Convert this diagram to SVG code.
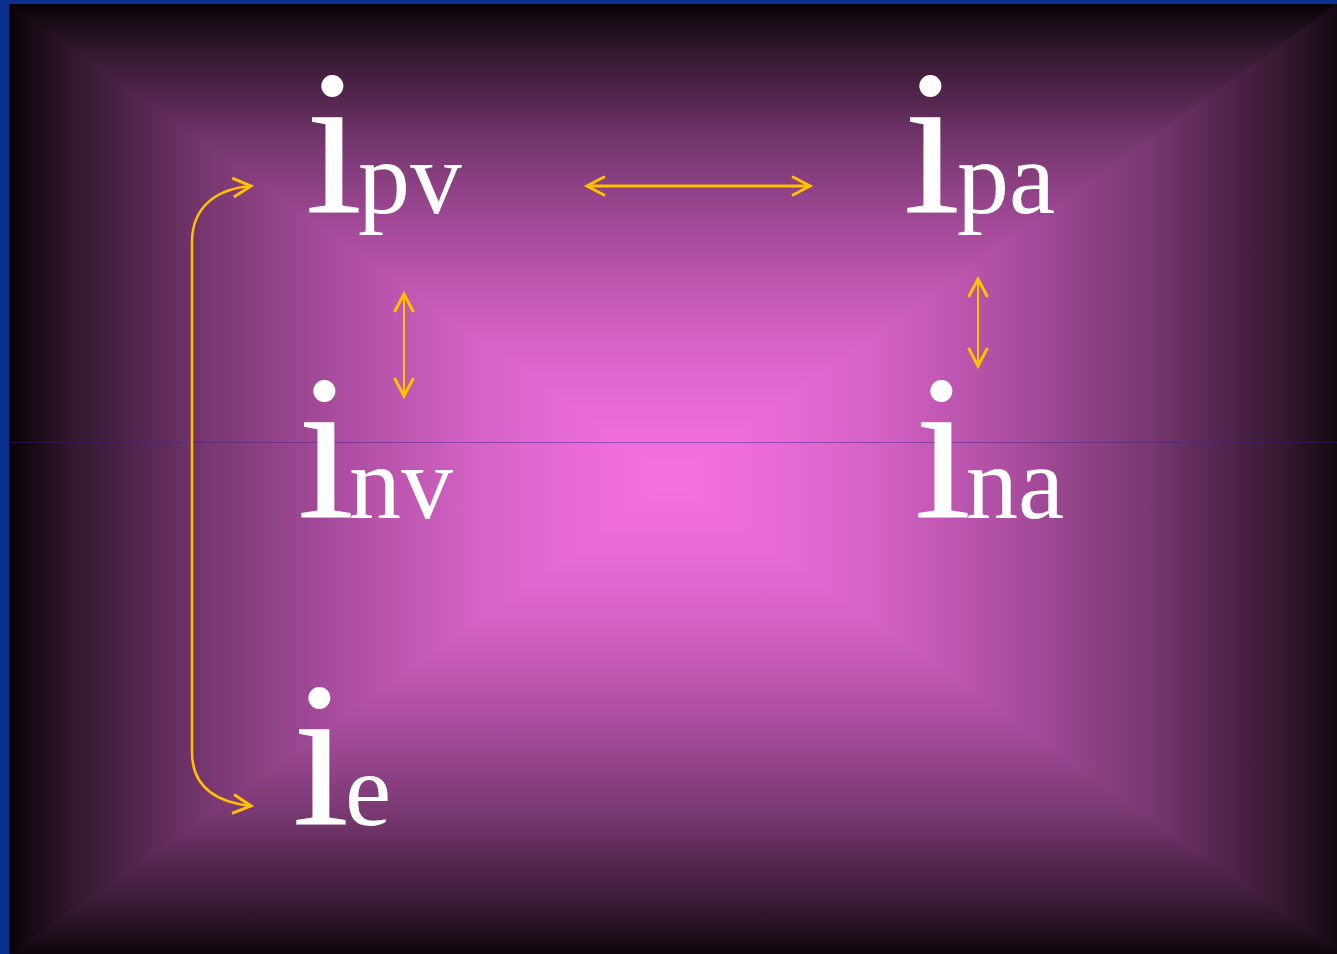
<svg xmlns="http://www.w3.org/2000/svg" width="1337" height="954" viewBox="0 0 1337 954">
  <defs>
    <linearGradient id="gTop" gradientUnits="userSpaceOnUse" x1="0" y1="4" x2="0" y2="479">
      <stop offset="0" stop-color="#080307"/>
      <stop offset="0.1" stop-color="#33182f"/>
      <stop offset="0.2" stop-color="#552650"/>
      <stop offset="0.3" stop-color="#773870"/>
      <stop offset="0.5" stop-color="#ab4da0"/>
      <stop offset="0.7" stop-color="#d462c4"/>
      <stop offset="0.85" stop-color="#e86ad6"/>
      <stop offset="1" stop-color="#f571e0"/>
    </linearGradient>
    <linearGradient id="gBot" href="#gTop" gradientUnits="userSpaceOnUse" x1="0" y1="960" x2="0" y2="479"/>
    <linearGradient id="gLeft" href="#gTop" gradientUnits="userSpaceOnUse" x1="9" y1="0" x2="673" y2="0"/>
    <linearGradient id="gRight" href="#gTop" gradientUnits="userSpaceOnUse" x1="1355" y1="0" x2="673" y2="0"/>
    <marker id="chev" markerUnits="userSpaceOnUse" markerWidth="30" markerHeight="30" viewBox="-25 -15 30 30" refX="0" refY="0" orient="auto-start-reverse">
      <path d="M-18,-9.5 L0,0 L-18,9.5" fill="none" stroke="#ffc000" stroke-width="3"/>
    </marker>
  </defs>
  <style>
    .lbl { font-family: "Liberation Serif", "Times New Roman", serif; fill: #ffffff; }
    .big { font-size: 207px; }
    .sub { font-size: 104px; }
    .conn { fill: none; stroke: #ffc000; }
  </style>

  <rect x="0" y="0" width="1337" height="954" fill="#0a3190"/>
  <rect x="9" y="4" width="665" height="950" fill="url(#gLeft)"/>
  <rect x="673" y="4" width="664" height="950" fill="url(#gRight)"/>
  <polygon points="9,4 1337,4 673,479" fill="url(#gTop)"/>
  <polygon points="9,954 1337,954 673,479" fill="url(#gBot)"/>
  <line x1="10" y1="442.5" x2="1337" y2="442.5" stroke="#401c88" stroke-opacity="0.45" stroke-width="1"/>

  <g id="connectors">
    <line class="conn" x1="587" y1="186" x2="810" y2="186" stroke-width="3" marker-start="url(#chev)" marker-end="url(#chev)"/>
    <line class="conn" x1="404" y1="294" x2="404" y2="396" stroke-width="2" marker-start="url(#chev)" marker-end="url(#chev)"/>
    <line class="conn" x1="978" y1="279" x2="978" y2="366" stroke-width="2" marker-start="url(#chev)" marker-end="url(#chev)"/>
    <path class="conn" d="M251,186 C215,189 192,208 192,242 L192,752 C192,786 215,802 251,806" stroke-width="2.5" marker-start="url(#chev)" marker-end="url(#chev)"/>
  </g>

  <g id="node-ipv">
    <text class="lbl big" x="305" y="213">i</text>
    <text class="lbl sub" x="358" y="213">pv</text>
  </g>
  <g id="node-ipa">
    <text class="lbl big" x="903" y="213">i</text>
    <text class="lbl sub" x="957" y="213">pa</text>
  </g>
  <g id="node-inv">
    <text class="lbl big" x="297" y="518">i</text>
    <text class="lbl sub" x="349" y="518">nv</text>
  </g>
  <g id="node-ina">
    <text class="lbl big" x="914" y="518">i</text>
    <text class="lbl sub" x="966" y="518">na</text>
  </g>
  <g id="node-ie">
    <text class="lbl big" x="292" y="825">i</text>
    <text class="lbl sub" x="345" y="825">e</text>
  </g>
</svg>
